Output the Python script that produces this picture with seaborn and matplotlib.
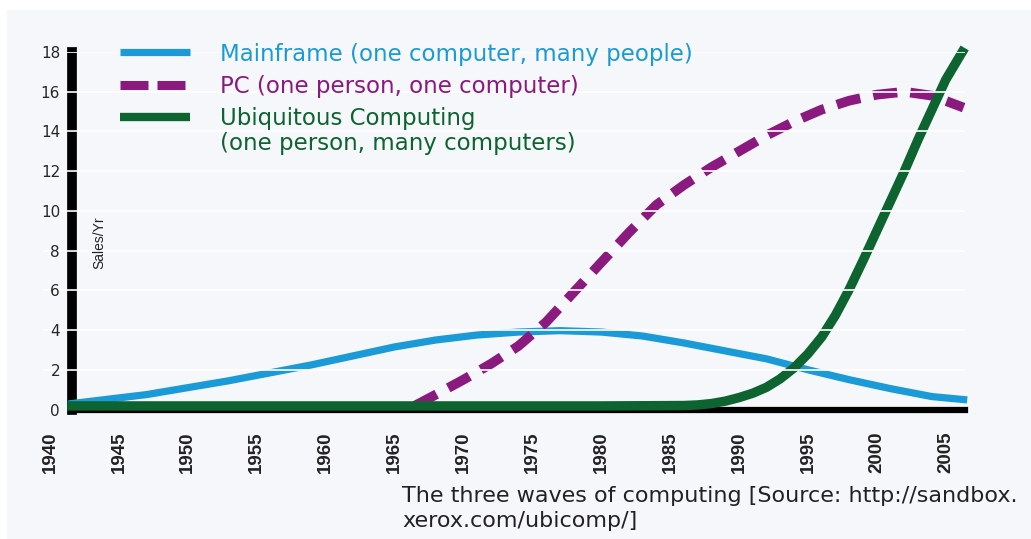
import matplotlib
matplotlib.use("Agg")
import matplotlib.pyplot as plt
import pandas as pd
import seaborn as sns
from matplotlib.lines import Line2D
from matplotlib.patches import Rectangle
from matplotlib.font_manager import FontProperties

# ---------------- data ----------------
mainframe_years = [1941.6, 1944, 1947, 1950, 1953, 1956, 1959, 1962, 1965, 1968, 1971,
                   1974, 1977, 1980, 1983, 1986, 1989, 1992, 1995, 1998, 2001, 2004, 2006.3]
mainframe_sales = [0.3, 0.5, 0.75, 1.1, 1.45, 1.85, 2.25, 2.7, 3.15, 3.5, 3.75,
                   3.9, 3.97, 3.9, 3.7, 3.35, 2.95, 2.55, 2.0, 1.5, 1.05, 0.65, 0.5]

pc_years = [1966.5, 1968, 1970, 1972, 1974, 1976, 1978, 1980, 1982, 1984, 1986,
            1988, 1990, 1992, 1994, 1996, 1998, 2000, 2002, 2004, 2006.3]
pc_sales = [0.2, 0.75, 1.5, 2.3, 3.2, 4.4, 5.9, 7.4, 8.9, 10.3, 11.3,
            12.2, 13.0, 13.8, 14.5, 15.1, 15.55, 15.85, 16.0, 15.8, 15.2]

ubi_years = [1941.6, 1950, 1960, 1970, 1980, 1986, 1987, 1988, 1989, 1990, 1991,
             1992, 1993, 1994, 1995, 1996, 1997, 1998, 1999, 2000, 2001, 2002,
             2003, 2004, 2005, 2006.2]
ubi_sales = [0.18, 0.18, 0.18, 0.18, 0.18, 0.2, 0.23, 0.3, 0.42, 0.6, 0.82,
             1.12, 1.55, 2.1, 2.8, 3.65, 4.75, 6.05, 7.5, 9.0, 10.5, 12.0,
             13.6, 15.1, 16.6, 18.0]

series_labels = ["Mainframe (one computer, many people)",
                 "PC (one person, one computer)",
                 "Ubiquitous Computing"]
ubi_label_line2 = "(one person, many computers)"
y_ticks = list(range(0, 19, 2))
x_ticks = list(range(1940, 2006, 5))
y_label = "Sales/Yr"
caption = "The three waves of computing [Source: http://sandbox.\nxerox.com/ubicomp/]"

# ---------------- style ----------------
BLUE = "#1b9ad8"
PURPLE = "#8b1a7e"
GREEN = "#0e6430"
BG = "#f6f7fa"
TXT = "#222222"
NARROW = ["Liberation Sans Narrow", "Liberation Sans", "DejaVu Sans"]

sns.set_theme(style="white")
plt.rcParams["font.family"] = ["DejaVu Sans"]
plt.rcParams["lines.solid_capstyle"] = "projecting"

W, H = 1031, 539
fig = plt.figure(figsize=(W / 100, H / 100), dpi=100, facecolor="white")
fig.patches.append(Rectangle((7 / W, 0), 1, 1 - 10 / H, transform=fig.transFigure,
                             facecolor=BG, edgecolor="none", zorder=-10))
ax = fig.add_axes([43.1 / W, 1 - 409.5 / H, 921.9 / W, (409.5 - 52) / H])
ax.set_facecolor("none")

df_main = pd.DataFrame({"Year": mainframe_years, "Sales": mainframe_sales})
df_pc = pd.DataFrame({"Year": pc_years, "Sales": pc_sales})
df_ubi = pd.DataFrame({"Year": ubi_years, "Sales": ubi_sales})

sns.lineplot(data=df_main, x="Year", y="Sales", ax=ax, color=BLUE, linewidth=5.2,
             clip_on=False, zorder=2)
sns.lineplot(data=df_pc, x="Year", y="Sales", ax=ax, color=PURPLE, linewidth=7,
             clip_on=False, zorder=2.1)
ax.lines[-1].set_dashes((2.5, 1.35))
sns.lineplot(data=df_ubi, x="Year", y="Sales", ax=ax, color=GREEN, linewidth=6.8,
             clip_on=False, zorder=2.2)

ax.set_xlim(1939.5, 2006.4)
ax.set_ylim(0, 18)
ax.set_xlabel("")
ax.set_ylabel("")

ax.set_yticks(y_ticks, labels=[str(v) for v in y_ticks], fontweight="bold",
              fontsize=12.5, color=TXT)
ax.set_xticks(x_ticks, labels=[str(v) for v in x_ticks], rotation=90,
              fontfamily=NARROW, fontweight="bold", fontsize=13.5, color=TXT)
ax.tick_params(axis="y", length=0, pad=8.6)
ax.tick_params(axis="x", length=0, pad=16)

for s in ("top", "right"):
    ax.spines[s].set_visible(False)
ax.spines["left"].set_position(("data", 1941.6))
ax.spines["left"].set_linewidth(7)
ax.spines["left"].set_color("black")
ax.spines["left"].set_zorder(1.5)
ax.spines["bottom"].set_bounds(1941.6, 2006.4)
ax.spines["bottom"].set_linewidth(4.5)
ax.spines["bottom"].set_color("black")
ax.spines["bottom"].set_zorder(1.5)

ax.set_axisbelow(False)
ax.yaxis.grid(True, color="white", linewidth=1.2)
ax.xaxis.grid(False)
ax.get_ygridlines()[0].set_visible(False)

# legend
handles = [Line2D([], [], color=BLUE, lw=5.2, solid_capstyle="butt"),
           Line2D([], [], color=PURPLE, lw=6.5, dashes=(3.1, 1.0)),
           Line2D([], [], color=GREEN, lw=6.0, solid_capstyle="butt")]
LFS = 16.5
lprop = FontProperties(family="DejaVu Sans", size=LFS, stretch="normal")
leg = ax.legend(handles, series_labels, loc="upper left",
                bbox_to_anchor=(120 / W, 1 - 42.5 / H), bbox_transform=fig.transFigure,
                frameon=False, prop=lprop, handlelength=3.05, handletextpad=1.31,
                labelspacing=0.41, borderpad=0, borderaxespad=0, labelcolor="linecolor")

fig.canvas.draw()
bb = leg.get_texts()[2].get_window_extent()
cy = (bb.y0 + bb.y1) / 2 - 25
fig.text(bb.x0 / W, cy / H, ubi_label_line2, ha="left", va="center",
         fontproperties=lprop, color=GREEN)

fig.text(99 / W, 1 - 243 / H, y_label, rotation=90, ha="center", va="center",
         fontsize=10, family=NARROW, color=TXT)
fig.text(402 / W, 1 - 486 / H, caption, ha="left", va="top", fontsize=16,
         family="DejaVu Sans", color=TXT, linespacing=1.3)

fig.savefig("out.png", dpi=100, facecolor=fig.get_facecolor())
